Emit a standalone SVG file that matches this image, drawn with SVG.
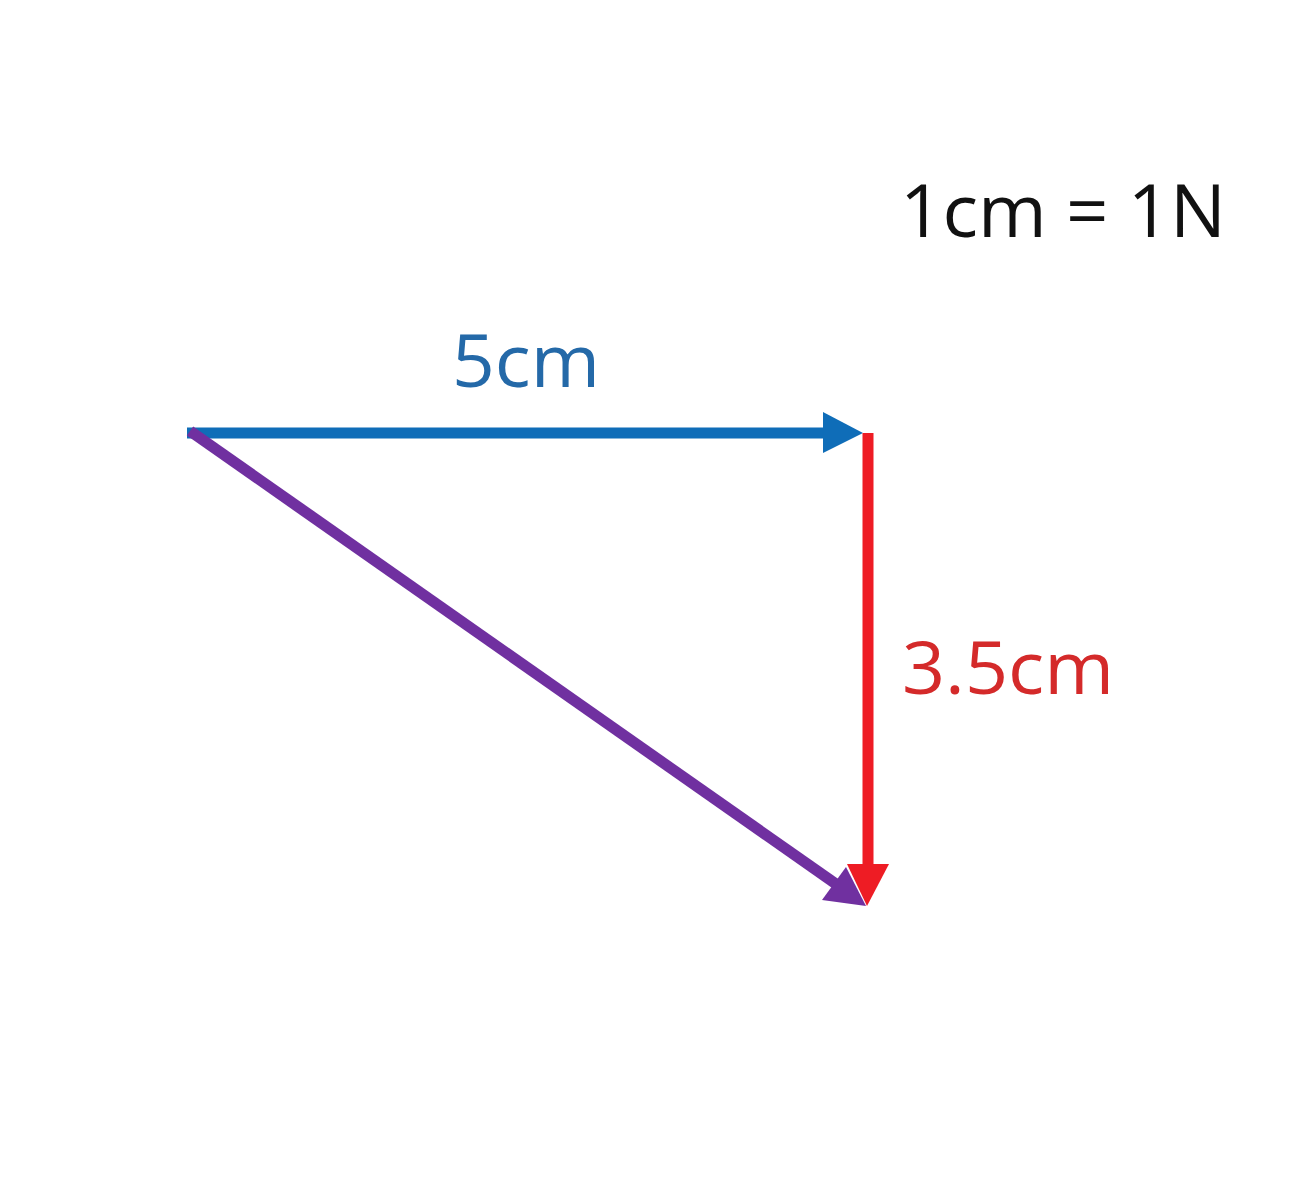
<svg xmlns="http://www.w3.org/2000/svg" width="1294" height="1200" viewBox="0 0 1294 1200">
<style>
text{font-family:"Open Sans","Noto Sans","Liberation Sans",sans-serif;font-size:74px}
.ln{stroke-width:11;fill:none;stroke-linecap:butt}
</style>
<rect width="1294" height="1200" fill="#ffffff"/>
<g id="connectors">
<g id="blue-vector">
<line class="ln" x1="187" y1="433" x2="828" y2="433" stroke="#0F6DB8"/>
<polygon points="823,412 863,433 823,453" fill="#0F6DB8"/>
</g>
<g id="red-vector">
<line class="ln" x1="868" y1="433" x2="868" y2="868" stroke="#EE1C24"/>
<polygon points="847,864 889,864 867,906" fill="#EE1C24"/>
</g>
<g id="purple-vector">
<line class="ln" x1="190" y1="431" x2="836" y2="884" stroke="#7030A0"/>
<polygon points="822,900 846,867 866,906" fill="#7030A0"/>
</g>
</g>
<g id="label-scale"><text x="900" y="237" fill="#111111" textLength="326" lengthAdjust="spacingAndGlyphs">1cm = 1N</text></g>
<g id="label-5cm"><text x="452" y="387" fill="#2469A8" textLength="148" lengthAdjust="spacingAndGlyphs">5cm</text></g>
<g id="label-3.5cm"><text x="902" y="694" fill="#D42A2A" textLength="212" lengthAdjust="spacingAndGlyphs">3.5cm</text></g>
</svg>
